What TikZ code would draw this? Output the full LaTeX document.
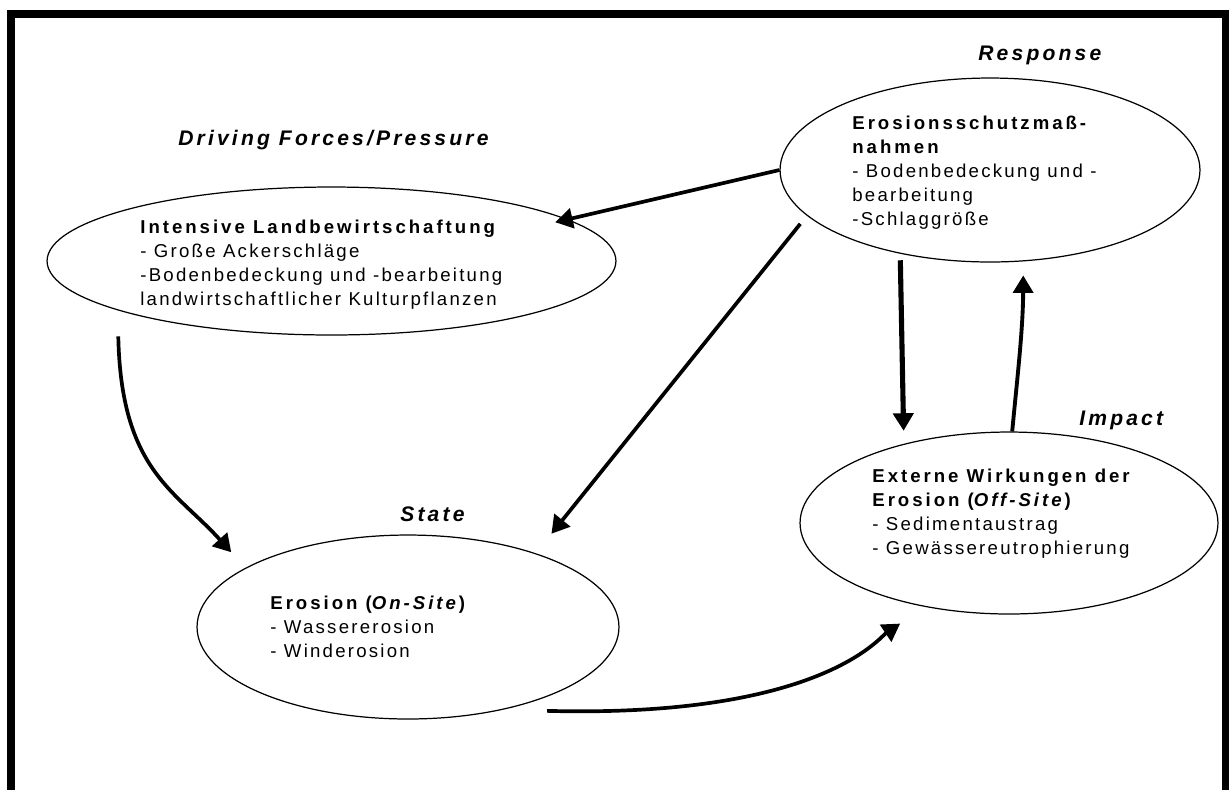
\documentclass[tikz,border=0pt]{standalone}
\usepackage{fontspec}
\setmainfont{Liberation Sans}
\newfontfamily\bodyfont{Liberation Sans}[LetterSpace=12, BoldFeatures={LetterSpace=16}, BoldItalicFeatures={LetterSpace=16}]
\newfontfamily\lblfont{Liberation Sans}[LetterSpace=15]
\usetikzlibrary{shapes.geometric,arrows.meta}
\begin{document}
\begin{tikzpicture}[x=0.02cm,y=-0.02cm,
  ell/.style={draw, ellipse, inner sep=0pt, line width=0.7pt},
  body/.style={anchor=base west, inner sep=0pt, font=\fontsize{10.6}{13.8}\bodyfont},
  lbl/.style={anchor=base west, inner sep=0pt, font=\fontsize{12}{14}\lblfont\bfseries\itshape},
  arr/.style={-{Triangle[length=0.35cm,width=0.4cm]}, line width=2.1pt},
]
\useasboundingbox (0,0) rectangle (1229,789);
\fill[white] (0,0) rectangle (1229,789);
% frame
\draw[line width=0.16cm] (11,830) -- (11,14) -- (1226,14) -- (1226,830);

% ellipses
\node[ell, minimum width=11.38cm, minimum height=2.96cm] (land) at (331.5,261) {};
\node[ell, minimum width=8.4cm, minimum height=3.68cm] (resp) at (990,170) {};
\node[ell, minimum width=8.36cm, minimum height=3.64cm] (ext) at (1009,523) {};
\node[ell, minimum width=8.44cm, minimum height=3.68cm] (ero) at (408,627) {};

% texts
\node[body] (tland) at (140,233) {\begin{tabular}[t]{@{}l@{}}\textbf{Intensive Landbewirtschaftung}\\- Große Ackerschläge\\-Bodenbedeckung und -bearbeitung\\landwirtschaftlicher Kulturpflanzen\end{tabular}};
\node[body] (tresp) at (852,129) {\begin{tabular}[t]{@{}l@{}}\textbf{Erosionsschutzmaß-}\\\textbf{nahmen}\\- Bodenbedeckung und -\\bearbeitung\\-Schlaggröße\end{tabular}};
\node[body] (text) at (872,482) {\begin{tabular}[t]{@{}l@{}}\textbf{Externe Wirkungen der}\\\textbf{Erosion (\textit{Off-Site})}\\- Sedimentaustrag\\- Gewässereutrophierung\end{tabular}};
\node[body] (tero) at (270,609) {\begin{tabular}[t]{@{}l@{}}\textbf{Erosion (\textit{On-Site})}\\- Wassererosion\\- Winderosion\end{tabular}};

% labels
\node[lbl] (lresp) at (978,60) {Response};
\node[lbl] (ldrive) at (178,145) {Driving Forces/Pressure};
\node[lbl] (lstate) at (400,521) {State};
\node[lbl] (limpact) at (1079,425) {Impact};

% arrows
\draw[arr, shorten >=-0.26cm] (resp.west) -- (land.10);
\draw[arr, shorten <=0.21cm, shorten >=0.5cm] (resp.194) -- (ero.30);
\draw[arr, line width=2.9pt, shorten <=0.13cm, shorten >=0.26cm] (resp.223.5) -- (ext.143.8);
\draw[arr, line width=2.2pt, shorten >=0.28cm] (ext.88) .. controls (1017,380) and (1023,330) .. (resp.290);
\draw[arr, shorten <=0.52cm, shorten >=0.42cm] (land.193.3) .. controls (121,470) and (175,490) .. (ero.160);
\draw[arr, shorten <=0.88cm, shorten >=0.6cm] (ero.319.4) .. controls (820,718) and (880,637) .. (ext.225);
\end{tikzpicture}
\end{document}
